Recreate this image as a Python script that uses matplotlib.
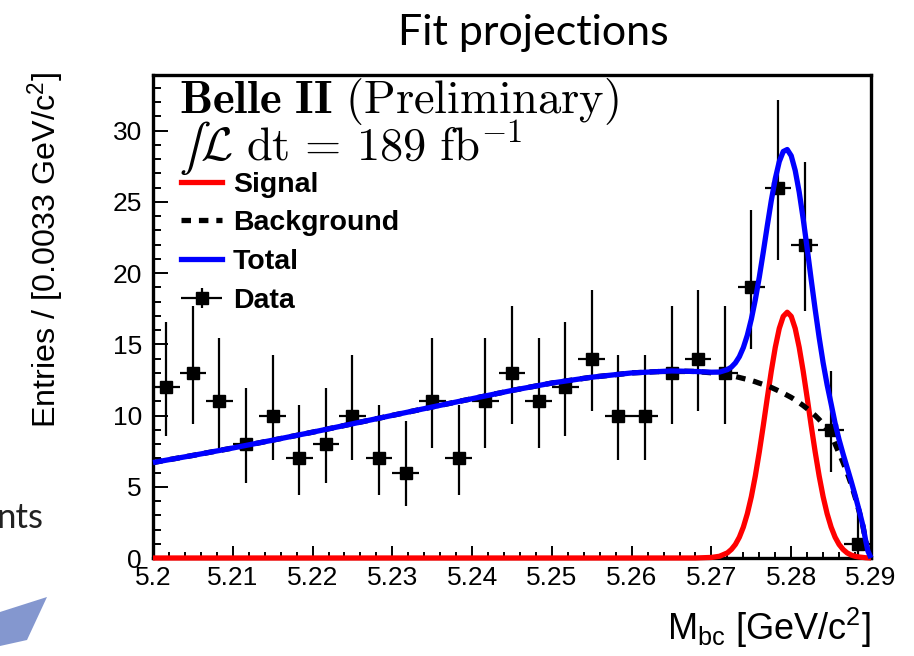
"""
Belle II Mbc fit projection - recreated with matplotlib
"""

import matplotlib
matplotlib.use("Agg")
import matplotlib.pyplot as plt
from matplotlib.lines import Line2D
from matplotlib.patches import Polygon
from matplotlib.container import ErrorbarContainer
from matplotlib.legend_handler import HandlerErrorbar
from matplotlib.ticker import MultipleLocator, FixedLocator

# ---- data ----
bin_centers = [5.20167, 5.20500, 5.20833, 5.21167, 5.21500, 5.21833, 5.22167,
               5.22500, 5.22833, 5.23167, 5.23500, 5.23833, 5.24167, 5.24500,
               5.24833, 5.25167, 5.25500, 5.25833, 5.26167, 5.26500, 5.26833,
               5.27167, 5.27500, 5.27833, 5.28167, 5.28500, 5.28833]
counts = [12, 13, 11, 8, 10, 7, 8, 10, 7, 6, 11, 7, 11, 13,
          11, 12, 14, 10, 10, 13, 14, 13, 19, 26, 22, 9, 1]
err_low = [3.42, 3.56, 3.27, 2.76, 3.11, 2.58, 2.76, 3.11, 2.58, 2.38, 3.27, 2.58, 3.27, 3.56,
           3.27, 3.42, 3.70, 3.11, 3.11, 3.56, 3.70, 3.56, 4.33, 5.07, 4.66, 2.94, 0.83]
err_high = [4.56, 4.70, 4.42, 3.95, 4.26, 3.77, 3.95, 4.26, 3.77, 3.62, 4.42, 3.77, 4.42, 4.70,
            4.42, 4.56, 4.83, 4.26, 4.26, 4.70, 4.83, 4.70, 5.44, 6.16, 5.76, 4.11, 2.30]
half_bin = 0.001667

curve_mass = [5.200, 5.205, 5.210, 5.215, 5.220, 5.225, 5.230, 5.235, 5.240, 5.245,
              5.250, 5.255, 5.260, 5.265, 5.268, 5.270, 5.271, 5.272, 5.2725, 5.273,
              5.2735, 5.274, 5.2745, 5.275, 5.2755, 5.276, 5.2765, 5.277, 5.2775, 5.278,
              5.2785, 5.279, 5.2795, 5.280, 5.2805, 5.281, 5.2815, 5.282, 5.2825, 5.283,
              5.2835, 5.284, 5.2845, 5.285, 5.2855, 5.286, 5.2865, 5.287, 5.2875, 5.288,
              5.2885, 5.289, 5.2893, 5.2896, 5.290]
signal_curve = [0, 0, 0, 0, 0, 0, 0, 0, 0, 0,
                0, 0, 0, 0, 0, 0.04, 0.12, 0.36, 0.60, 0.95,
                1.46, 2.17, 3.11, 4.30, 5.76, 7.45, 9.30, 11.24, 13.11, 14.78,
                16.11, 16.96, 17.25, 16.96, 16.11, 14.78, 13.11, 11.24, 9.30, 7.45,
                5.76, 4.30, 3.11, 2.17, 1.46, 0.95, 0.60, 0.36, 0.21, 0.12,
                0.07, 0.04, 0.02, 0.01, 0.0]
background_curve = [6.70, 7.20, 7.72, 8.27, 8.83, 9.42, 10.01, 10.60, 11.18, 11.76,
                    12.28, 12.69, 12.99, 13.13, 13.09, 13.00, 12.93, 12.86, 12.80, 12.74,
                    12.67, 12.60, 12.53, 12.46, 12.37, 12.27, 12.18, 12.08, 11.97, 11.84,
                    11.71, 11.57, 11.42, 11.27, 11.09, 10.90, 10.70, 10.48, 10.25, 10.00,
                    9.72, 9.40, 9.05, 8.65, 8.00, 7.35, 6.70, 6.00, 5.20, 4.30,
                    3.30, 2.20, 1.30, 0.50, 0.0]
total_curve = [6.70, 7.20, 7.72, 8.27, 8.83, 9.42, 10.01, 10.60, 11.18, 11.76,
               12.28, 12.69, 12.99, 13.13, 13.09, 13.04, 13.05, 13.22, 13.40, 13.69,
               14.13, 14.77, 15.64, 16.76, 18.13, 19.72, 21.48, 23.32, 25.08, 26.62,
               27.82, 28.53, 28.67, 28.23, 27.20, 25.68, 23.81, 21.72, 19.55, 17.45,
               15.48, 13.70, 12.16, 10.82, 9.46, 8.30, 7.30, 6.36, 5.41, 4.42,
               3.37, 2.24, 1.32, 0.51, 0.0]

x_ticks = [5.20, 5.21, 5.22, 5.23, 5.24, 5.25, 5.26, 5.27, 5.28, 5.29]
x_tick_labels = ["5.2", "5.21", "5.22", "5.23", "5.24", "5.25", "5.26", "5.27", "5.28", "5.29"]
y_ticks = [0, 5, 10, 15, 20, 25, 30]

# ---- style ----
plt.rcParams['font.family'] = ['Liberation Sans', 'DejaVu Sans']
plt.rcParams['mathtext.fontset'] = 'custom'
plt.rcParams['mathtext.rm'] = 'Liberation Sans'
plt.rcParams['mathtext.it'] = 'Liberation Sans:italic'
plt.rcParams['mathtext.bf'] = 'Liberation Sans:bold'

W, H = 914, 656
fig = plt.figure(figsize=(W / 100, H / 100), dpi=100)
ax = fig.add_axes([153 / W, 1 - 558 / H, 718 / W, 483 / H])

# data points
data = ax.errorbar(bin_centers, counts, xerr=half_bin, yerr=[err_low, err_high],
                   fmt='s', color='black', markersize=9, elinewidth=1.6,
                   capsize=0, zorder=3)

# fit curves
ax.plot(curve_mass, signal_curve, color='#ff0000', lw=3.8, zorder=5, clip_on=False,
        solid_capstyle='butt')
ax.plot(curve_mass, background_curve, color='black', lw=3.8, ls=(0, (1.8, 1.5)),
        zorder=6, clip_on=False)
ax.plot(curve_mass, total_curve, color='#0000ff', lw=3.8, zorder=7, clip_on=False,
        solid_capstyle='butt')

ax.set_xlim(5.2, 5.29)
ax.set_ylim(0, 33.9)

ax.xaxis.set_major_locator(FixedLocator(x_ticks))
ax.set_xticklabels(x_tick_labels)
ax.xaxis.set_minor_locator(MultipleLocator(0.002))
ax.yaxis.set_major_locator(FixedLocator(y_ticks))
ax.yaxis.set_minor_locator(MultipleLocator(1))

ax.tick_params(axis='both', which='both', direction='in', top=False, right=False,
               labelsize=19, width=1.4)
ax.tick_params(axis='x', which='major', length=9, pad=6)
ax.tick_params(axis='x', which='minor', length=4.5)
ax.tick_params(axis='y', which='major', length=11, pad=8)
ax.tick_params(axis='y', which='minor', length=5.5)
for sp in ax.spines.values():
    sp.set_linewidth(2.4)
    sp.set_zorder(4)

ax.set_ylabel(r"Entries / [0.0033 GeV/c$^{2}$]", fontsize=23.2, loc='top')
ax.yaxis.set_label_coords(-0.12, 1.005)
ax.set_xlabel(r"M$_{\mathrm{bc}}$ [GeV/c$^{2}$]", fontsize=26, loc='right')
ax.xaxis.set_label_coords(1.0, -0.10)

# Belle II labels (LaTeX style)
ax.text(0.036, 0.921, r"$\mathbf{Belle\ II}\ \mathrm{(Preliminary)}$",
        transform=ax.transAxes, fontsize=33.5, va='baseline', ha='left',
        math_fontfamily='cm')
ax.text(0.036, 0.824, r"$∫\mathcal{L}\ \mathrm{dt}\,=\,189\ \mathrm{fb}^{-1}$",
        transform=ax.transAxes, fontsize=33.5, va='baseline', ha='left',
        math_fontfamily='cm')

handles = [Line2D([], [], color='#ff0000', lw=3.8),
           Line2D([], [], color='black', lw=3.8, ls=(0, (1.8, 1.5))),
           Line2D([], [], color='#0000ff', lw=3.8),
           data]
leg = ax.legend(handles, ["Signal", "Background", "Total", "Data"],
                loc='upper left', bbox_to_anchor=(0.039, 0.80), frameon=False,
                prop={'family': 'Liberation Sans', 'weight': 'bold', 'size': 20.5},
                handlelength=1.45, handletextpad=0.38, labelspacing=0.45,
                borderpad=0, borderaxespad=0,
                handler_map={ErrorbarContainer: HandlerErrorbar(xerr_size=0.72, yerr_size=0.36)})

# slide decorations around the plot
fig.text(0.5835, 1 - 45 / H, "Fit projections", fontsize=31, ha='center', va='baseline',
         family=['Lato', 'DejaVu Sans'])
fig.text(-0.004, 1 - 528 / H, "nts", fontsize=25, ha='left', va='baseline',
         family=['Lato', 'DejaVu Sans'], color='#222222')
arrow = Polygon([[0, 1 - 612 / H], [47 / W, 1 - 597 / H], [27 / W, 1 - 640 / H], [0, 1 - 646 / H]],
                closed=True, transform=fig.transFigure, facecolor='#8497cf', edgecolor='none')
fig.patches.append(arrow)

fig.savefig("out.png", dpi=100)
